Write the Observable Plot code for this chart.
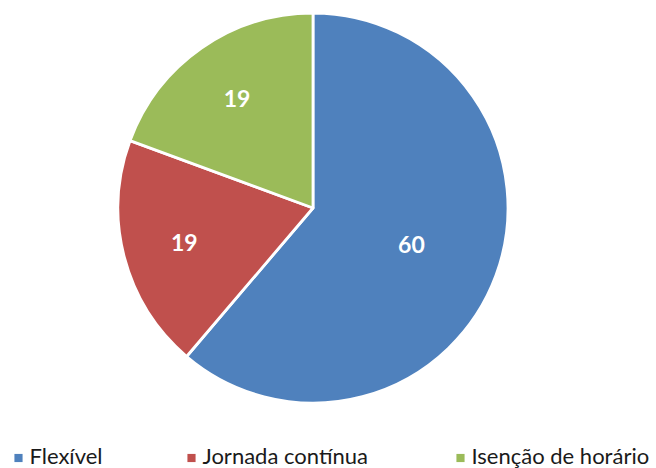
<!DOCTYPE html>
<html><head><meta charset="utf-8">
<script src="https://cdn.jsdelivr.net/npm/d3@7"></script>
<script src="https://cdn.jsdelivr.net/npm/@observablehq/plot@0.6"></script>
<style>
body{margin:0;background:#fff;}
</style>
</head><body>
<div id="chart"></div>
<script>
const categories = ["Flexível", "Jornada contínua", "Isenção de horário"];
const values = [60, 19, 19];
const colors = ["#4F81BD", "#C0504D", "#9BBB59"];

const W = 656, H = 468;
const cx = 313, cy = 208, R = 195;

const pie = d3.pie().sort(null).value(d => d.value).startAngle(0).endAngle(2 * Math.PI);
const data = categories.map((c, i) => ({category: c, value: values[i], color: colors[i]}));
const arcs = pie(data);
const total = d3.sum(values);

const labels = arcs.map(a => {
  const mid = (a.startAngle + a.endAngle) / 2;
  const f = a.data.value / total > 0.5 ? 0.535 : 0.685;
  return {x: cx + Math.sin(mid) * R * f, y: cy + 1 - Math.cos(mid) * R * f, text: String(a.data.value)};
});

// legend layout
const legendSwatchX = [18, 191, 460];
const legend = data.map((d, i) => ({label: d.category, color: d.color, sx: legendSwatchX[i], tx: legendSwatchX[i] + 11, y: 456}));

const arcGen = d3.arc().innerRadius(0).outerRadius(R);

function slicesMark(index, scales) {
  const g = d3.create("svg:g");
  const px = scales && scales.x ? scales.x(cx) : cx;
  const py = scales && scales.y ? scales.y(cy) : cy;
  g.selectAll("path").data(arcs).join("path")
    .attr("transform", `translate(${px},${py})`)
    .attr("d", arcGen)
    .attr("fill", d => d.data.color)
    .attr("stroke", "#fff")
    .attr("stroke-width", 2.8)
    .attr("stroke-linejoin", "round");
  return g.node();
}

const plot = Plot.plot({
  width: W, height: H,
  margin: 0,
  style: {background: "#fff"},
  x: {domain: [0, W], range: [0, W], axis: null},
  y: {domain: [0, H], range: [0, H], axis: null},
  marks: [
    slicesMark,
    Plot.text(labels, {x: "x", y: "y", text: "text", fill: "white", fontSize: 23, fontWeight: "bold", fontFamily: "Lato, sans-serif"}),
    Plot.dot(legend, {x: "sx", y: "y", dy: 1.5, symbol: "square", r: 4.6, fill: "color", stroke: null}),
    Plot.text(legend, {x: "tx", y: "y", text: "label", textAnchor: "start", fill: "#1a1a1a", fontSize: 22, fontFamily: "Lato, sans-serif"})
  ]
});
document.getElementById("chart").appendChild(plot);
</script>
</body></html>
